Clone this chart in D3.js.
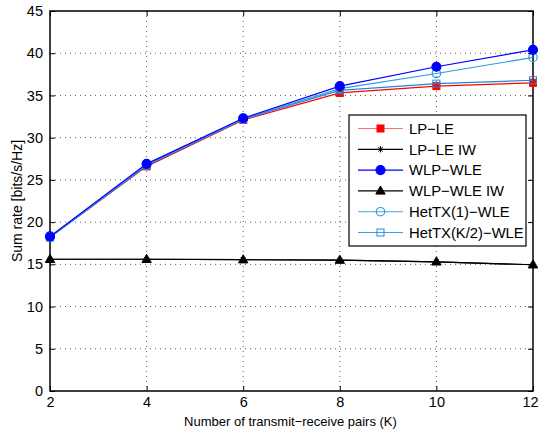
<!DOCTYPE html>
<html><head><meta charset="utf-8">
<script src="https://cdn.jsdelivr.net/npm/d3@7"></script>
<style>body{margin:0;background:#fff}svg{display:block;font-family:"Liberation Sans",Arial,sans-serif}</style>
</head><body><svg id="c" width="540" height="432"></svg>
<script>
const kValues = [2, 4, 6, 8, 10, 12];
const xTicks = [2, 4, 6, 8, 10, 12];
const yTicks = [0, 5, 10, 15, 20, 25, 30, 35, 40, 45];
const lpLe = [18.2, 26.6, 32.1, 35.3, 36.1, 36.5];
const lpLeIw = [15.6, 15.6, 15.55, 15.5, 15.3, 14.95];
const wlpWle = [18.3, 26.9, 32.3, 36.1, 38.4, 40.4];
const wlpWleIw = [15.6, 15.6, 15.55, 15.5, 15.3, 14.95];
const hetTx1 = [18.2, 26.8, 32.2, 35.8, 37.6, 39.5];
const hetTxK2 = [18.2, 26.7, 32.2, 35.6, 36.4, 36.8];
const seriesNames = ["LP\u2212LE", "LP\u2212LE IW", "WLP\u2212WLE", "WLP\u2212WLE IW", "HetTX(1)\u2212WLE", "HetTX(K/2)\u2212WLE"];

const series = [
  {name: seriesNames[0], vals: lpLe, color: "#ff0000", legColor: "#ff7070", marker: "square", fill: true},
  {name: seriesNames[1], vals: lpLeIw, color: "#000000", legColor: "#000000", marker: "star", fill: true},
  {name: seriesNames[2], vals: wlpWle, color: "#0000ff", legColor: "#0000ff", marker: "circle", fill: true},
  {name: seriesNames[3], vals: wlpWleIw, color: "#000000", legColor: "#000000", marker: "triangle", fill: true},
  {name: seriesNames[4], vals: hetTx1, color: "#2b9be0", legColor: "#6cb8e6", marker: "circle", fill: false},
  {name: seriesNames[5], vals: hetTxK2, color: "#1f88d6", legColor: "#3a9ee0", marker: "square", fill: false}
];

d3.symbolAsterisk = {draw(ctx, size) {
  const r = Math.sqrt(size) / 2;
  for (let i = 0; i < 4; i++) {
    const a = i * Math.PI / 4;
    ctx.moveTo(-r * Math.cos(a), -r * Math.sin(a));
    ctx.lineTo(r * Math.cos(a), r * Math.sin(a));
  }
}};

const svg = d3.select("#c");
const L = 50, R = 533, T = 11, B = 391;
const x = d3.scaleLinear().domain([2, 12]).range([L, R]);
const y = d3.scaleLinear().domain([0, 45]).range([B, T]);

// grid
const g = svg.append("g");
g.selectAll(".gx").data(xTicks.slice(1, -1)).enter().append("line")
  .attr("x1", d => x(d)).attr("x2", d => x(d)).attr("y1", T).attr("y2", B)
  .attr("stroke", "#333").attr("stroke-width", 0.8).attr("stroke-dasharray", "1,4");
g.selectAll(".gy").data(yTicks.slice(1, -1)).enter().append("line")
  .attr("y1", d => y(d)).attr("y2", d => y(d)).attr("x1", L).attr("x2", R)
  .attr("stroke", "#333").attr("stroke-width", 0.8).attr("stroke-dasharray", "1,4");

// axes
const fs = 14.5;
const ax = svg.append("g").attr("transform", `translate(0,${B})`)
  .call(d3.axisBottom(x).tickValues(xTicks).tickSize(-5).tickPadding(6).tickFormat(d3.format("d")));
const axT = svg.append("g").attr("transform", `translate(0,${T})`)
  .call(d3.axisTop(x).tickValues(xTicks).tickSize(-5).tickFormat(""));
const ay = svg.append("g").attr("transform", `translate(${L},0)`)
  .call(d3.axisLeft(y).tickValues(yTicks).tickSize(-5).tickPadding(7).tickFormat(d3.format("d")));
const ayR = svg.append("g").attr("transform", `translate(${R},0)`)
  .call(d3.axisRight(y).tickValues(yTicks).tickSize(-5).tickFormat(""));
[ax, axT, ay, ayR].forEach(a => {
  a.select(".domain").remove();
  a.selectAll("line").attr("stroke", "#000");
  a.selectAll("text").attr("font-size", fs).attr("font-family", "Liberation Sans, Arial, sans-serif").attr("fill", "#000");
});
ax.selectAll("text").attr("dy", "0.71em");
ax.selectAll(".tick").filter(d => d === 12).select("text").attr("x", -3);
svg.append("rect").attr("x", L).attr("y", T).attr("width", R - L).attr("height", B - T)
  .attr("fill", "none").attr("stroke", "#000").attr("stroke-width", 1.5);

// labels
svg.append("text").attr("x", (L + R) / 2 - 1).attr("y", 426).attr("text-anchor", "middle")
  .attr("font-size", 13).text("Number of transmit\u2212receive pairs (K)");
svg.append("text").attr("transform", `translate(22,${(T + B) / 2}) rotate(-90)`).attr("text-anchor", "middle")
  .attr("font-size", 14).text("Sum rate [bits/s/Hz]");

function drawMarker(sel, type, color, fill, cx, cy) {
  if (type === "square") {
    sel.append("rect").attr("x", cx - 3.5).attr("y", cy - 3.5).attr("width", 7).attr("height", 7)
      .attr("fill", fill ? color : "none").attr("stroke", color).attr("stroke-width", 1);
  } else if (type === "circle") {
    sel.append("circle").attr("cx", cx).attr("cy", cy).attr("r", fill ? 4.5 : 4.2)
      .attr("fill", fill ? color : "none").attr("stroke", color).attr("stroke-width", 1.2);
  } else if (type === "triangle") {
    sel.append("path").attr("d", d3.symbol().type(d3.symbolTriangle).size(38)())
      .attr("transform", `translate(${cx},${cy + 0.5})`).attr("fill", color).attr("stroke", color);
  } else if (type === "star") {
    sel.append("path").attr("d", d3.symbol().type(d3.symbolAsterisk).size(40)())
      .attr("transform", `translate(${cx},${cy})`).attr("fill", "none").attr("stroke", color).attr("stroke-width", 1);
  }
}

const line = d3.line().x((d, i) => x(kValues[i])).y(d => y(d));
const order = [1, 3, 0, 5, 4, 2];
order.forEach(si => {
  const s = series[si];
  const gs = svg.append("g");
  gs.append("path").attr("d", line(s.vals)).attr("fill", "none").attr("stroke", s.color).attr("stroke-width", 1.2);
  s.vals.forEach((v, i) => drawMarker(gs, s.marker, s.color, s.fill, x(kValues[i]), y(v)));
});

// legend
const lg = svg.append("g");
lg.append("rect").attr("x", 349).attr("y", 115).attr("width", 177).attr("height", 131)
  .attr("fill", "#fff").attr("stroke", "#000").attr("stroke-width", 1.2);
series.forEach((s, i) => {
  const cy = 128.5 + i * 20.8;
  lg.append("line").attr("x1", 358).attr("x2", 403).attr("y1", cy).attr("y2", cy)
    .attr("stroke", s.legColor).attr("stroke-width", 1.2);
  drawMarker(lg, s.marker, s.color, s.fill, 380.5, cy);
  lg.append("text").attr("x", 409).attr("y", cy).attr("dy", "0.36em").attr("font-size", 14.8).text(s.name);
});
</script></body></html>
